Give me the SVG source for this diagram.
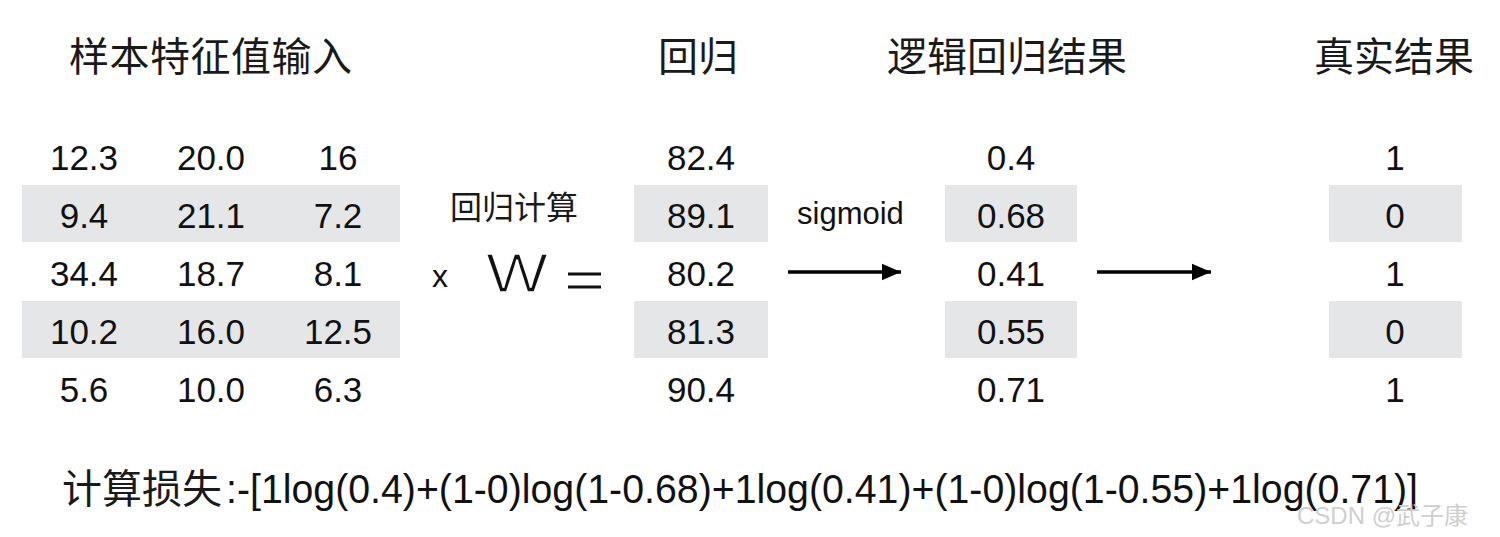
<svg xmlns="http://www.w3.org/2000/svg" width="1500" height="537" viewBox="0 0 1500 537">
<style>
.bg{fill:#ffffff}
.band{fill:#e5e6e8}
.cjk{font-family:"Noto Sans CJK SC","Noto Sans",sans-serif;fill:#1a1a1a}
.title{font-size:40px}
.num{font-family:"Liberation Sans",Arial,sans-serif;font-size:35px;fill:#111;text-anchor:middle}
.lbl{font-family:"Liberation Sans",Arial,sans-serif;fill:#111}
.arrow{stroke:#000;stroke-width:3.5;fill:none}
.wm{font-family:"Liberation Sans","Noto Sans CJK SC",sans-serif;font-size:24px;fill:#cfcfcf}
</style>
<defs>
<marker id="ah" markerWidth="6" markerHeight="6" refX="5.5" refY="3" orient="auto" markerUnits="strokeWidth">
<path d="M0,0.6 L5.5,3 L0,5.4 Z" fill="#000"/>
</marker>
</defs>
<rect class="bg" x="0" y="0" width="1500" height="537"/>

<g id="features">
<text class="cjk title" x="69" y="71" textLength="283">样本特征值输入</text>
<rect class="band" x="22" y="185" width="378" height="57"/>
<rect class="band" x="22" y="301" width="378" height="57"/>
<text class="num" x="84" y="170">12.3</text>
<text class="num" x="211" y="170">20.0</text>
<text class="num" x="338" y="170">16</text>
<text class="num" x="84" y="228">9.4</text>
<text class="num" x="211" y="228">21.1</text>
<text class="num" x="338" y="228">7.2</text>
<text class="num" x="84" y="286">34.4</text>
<text class="num" x="211" y="286">18.7</text>
<text class="num" x="338" y="286">8.1</text>
<text class="num" x="84" y="344">10.2</text>
<text class="num" x="211" y="344">16.0</text>
<text class="num" x="338" y="344">12.5</text>
<text class="num" x="84" y="402">5.6</text>
<text class="num" x="211" y="402">10.0</text>
<text class="num" x="338" y="402">6.3</text>
</g>

<g id="weights">
<text class="cjk" x="450" y="219" font-size="32">回归计算</text>
<text class="lbl" x="432" y="287" font-size="32">x</text>
<text class="lbl" x="486" y="292" font-size="56" textLength="62" lengthAdjust="spacingAndGlyphs" stroke="#ffffff" stroke-width="1.6">W</text>
<rect x="568" y="272.5" width="33" height="3" fill="#111"/>
<rect x="568" y="285.5" width="33" height="3" fill="#111"/>
</g>

<g id="regression">
<text class="cjk title" x="658" y="71">回归</text>
<rect class="band" x="634" y="185" width="134" height="57"/>
<rect class="band" x="634" y="301" width="134" height="57"/>
<text class="num" x="701" y="170">82.4</text>
<text class="num" x="701" y="228">89.1</text>
<text class="num" x="701" y="286">80.2</text>
<text class="num" x="701" y="344">81.3</text>
<text class="num" x="701" y="402">90.4</text>
</g>

<g id="logistic">
<text class="cjk title" x="887" y="71">逻辑回归结果</text>
<rect class="band" x="945" y="185" width="132" height="57"/>
<rect class="band" x="945" y="301" width="132" height="57"/>
<text class="num" x="1011" y="170">0.4</text>
<text class="num" x="1011" y="228">0.68</text>
<text class="num" x="1011" y="286">0.41</text>
<text class="num" x="1011" y="344">0.55</text>
<text class="num" x="1011" y="402">0.71</text>
</g>

<g id="truth">
<text class="cjk title" x="1314" y="71">真实结果</text>
<rect class="band" x="1329" y="185" width="133" height="57"/>
<rect class="band" x="1329" y="301" width="133" height="57"/>
<text class="num" x="1395" y="170">1</text>
<text class="num" x="1395" y="228">0</text>
<text class="num" x="1395" y="286">1</text>
<text class="num" x="1395" y="344">0</text>
<text class="num" x="1395" y="402">1</text>
</g>

<g id="connectors">
<text class="lbl" x="797" y="224" font-size="31">sigmoid</text>
<line class="arrow" x1="788" y1="272" x2="901" y2="272" marker-end="url(#ah)"/>
<line class="arrow" x1="1097" y1="272" x2="1211" y2="272" marker-end="url(#ah)"/>
</g>

<g id="loss">
<text class="cjk" x="62" y="503" font-size="40">计算损失</text>
<text class="lbl" x="226" y="503" font-size="40" textLength="1192" lengthAdjust="spacingAndGlyphs">:-[1log(0.4)+(1-0)log(1-0.68)+1log(0.41)+(1-0)log(1-0.55)+1log(0.71)]</text>
</g>

<text class="wm" x="1297" y="524">CSDN @武子康</text>
</svg>
